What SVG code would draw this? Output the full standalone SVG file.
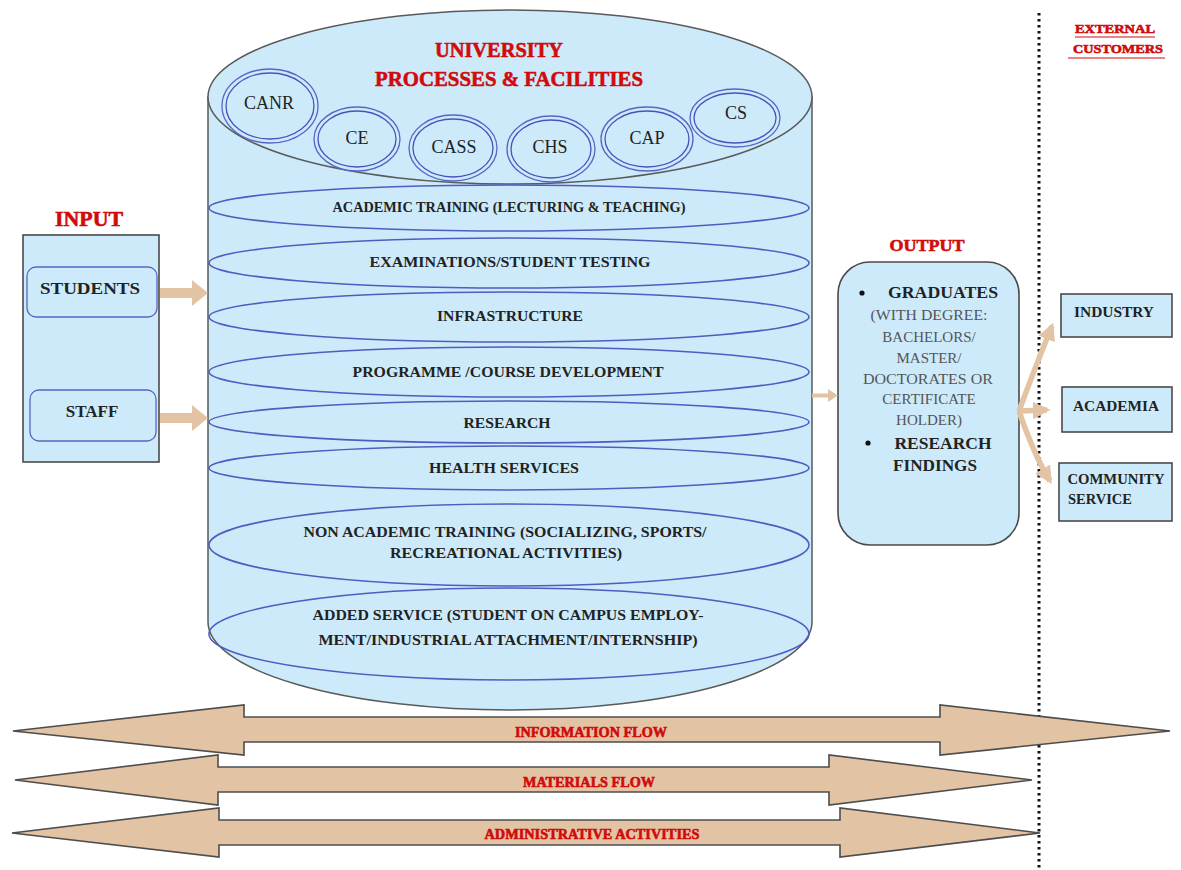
<svg xmlns="http://www.w3.org/2000/svg" width="1181" height="870" viewBox="0 0 1181 870">
<defs>
<style>
.bg{fill:#ffffff}
.lb{fill:#cdeafb;stroke:#5a5a5a;stroke-width:1.5}
.band{fill:none;stroke:#4f5cc0;stroke-width:1.6}
.ring{fill:none;stroke:#4553bb;stroke-width:1.3}
.rr{fill:#cdeafb;stroke:#5865c4;stroke-width:1.3}
.tan{fill:#e2c4a5;stroke:#4d4d4d;stroke-width:1.6;stroke-linejoin:miter}
.tanf{fill:#e2c4a5;stroke:none}
.tl{fill:none;stroke:#e2c4a5;stroke-width:5.5}
.t{font-family:"Liberation Serif",serif;font-weight:bold;fill:#222;text-anchor:middle;dominant-baseline:central}
.n{font-family:"Liberation Serif",serif;font-weight:normal;fill:#222;text-anchor:middle;dominant-baseline:central;font-size:18px}
.g{font-family:"Liberation Serif",serif;fill:#555;text-anchor:middle;dominant-baseline:central;font-size:15px}
.r{font-family:"Liberation Serif",serif;font-weight:900;fill:#d10a0a;text-anchor:middle;dominant-baseline:central;stroke:#d10a0a;stroke-width:0.6}
.box{fill:#cdeafb;stroke:#4a4a4a;stroke-width:1.6}
</style>
<marker id="ah" viewBox="0 0 10 10" refX="8" refY="5" markerWidth="3.2" markerHeight="3.2" orient="auto">
<path d="M0,0 L10,5 L0,10 Z" fill="#e2c4a5"/>
</marker>
</defs>
<rect class="bg" x="0" y="0" width="1181" height="870"/>

<g id="cylinder">
<path class="lb" d="M208,97 L208,622 A302,88 0 0 0 812,622 L812,97 Z"/>
<ellipse class="lb" cx="510" cy="97" rx="302" ry="87"/>
<text class="r" x="499" y="49" font-size="22" textLength="128" lengthAdjust="spacingAndGlyphs">UNIVERSITY</text>
<text class="r" x="509" y="78" font-size="22" textLength="268" lengthAdjust="spacingAndGlyphs">PROCESSES  &amp; FACILITIES</text>
</g>

<g id="colleges">
<g id="canr"><ellipse class="rr" cx="270" cy="106" rx="48" ry="37"/><ellipse class="ring" cx="270" cy="106" rx="44" ry="33"/><text class="n" x="269" y="103">CANR</text></g>
<g id="ce"><ellipse class="rr" cx="357" cy="139" rx="43" ry="32"/><ellipse class="ring" cx="357" cy="139" rx="39" ry="28"/><text class="n" x="357" y="138">CE</text></g>
<g id="cass"><ellipse class="rr" cx="453" cy="148" rx="44" ry="33"/><ellipse class="ring" cx="453" cy="148" rx="40" ry="29"/><text class="n" x="454" y="147">CASS</text></g>
<g id="chs"><ellipse class="rr" cx="551" cy="149" rx="44" ry="33"/><ellipse class="ring" cx="551" cy="149" rx="40" ry="29"/><text class="n" x="550" y="147">CHS</text></g>
<g id="cap"><ellipse class="rr" cx="647" cy="139" rx="46" ry="32"/><ellipse class="ring" cx="647" cy="139" rx="42" ry="28"/><text class="n" x="647" y="138">CAP</text></g>
<g id="cs"><ellipse class="rr" cx="735" cy="118" rx="45" ry="29"/><ellipse class="ring" cx="735" cy="118" rx="41" ry="25"/><text class="n" x="736" y="113">CS</text></g>
</g>

<g id="processes">
<g id="p-academic"><ellipse class="band" cx="509" cy="208" rx="300" ry="23"/><text class="t" x="509" y="207" font-size="15" textLength="353" lengthAdjust="spacingAndGlyphs">ACADEMIC TRAINING (LECTURING &amp; TEACHING)</text></g>
<g id="p-exam"><ellipse class="band" cx="509" cy="263" rx="300" ry="25"/><text class="t" x="510" y="262" font-size="15" textLength="281" lengthAdjust="spacingAndGlyphs">EXAMINATIONS/STUDENT TESTING</text></g>
<g id="p-infra"><ellipse class="band" cx="509" cy="317" rx="300" ry="25"/><text class="t" x="510" y="316" font-size="15" textLength="146" lengthAdjust="spacingAndGlyphs">INFRASTRUCTURE</text></g>
<g id="p-prog"><ellipse class="band" cx="509" cy="372" rx="300" ry="25"/><text class="t" x="508" y="372" font-size="15" textLength="311" lengthAdjust="spacingAndGlyphs">PROGRAMME /COURSE DEVELOPMENT</text></g>
<g id="p-research"><ellipse class="band" cx="509" cy="422" rx="300" ry="21"/><text class="t" x="507" y="423" font-size="15" textLength="87" lengthAdjust="spacingAndGlyphs">RESEARCH</text></g>
<g id="p-health"><ellipse class="band" cx="509" cy="468" rx="300" ry="22"/><text class="t" x="504" y="468" font-size="15" textLength="150" lengthAdjust="spacingAndGlyphs">HEALTH SERVICES</text></g>
<g id="p-nonacad"><ellipse class="band" cx="509" cy="545" rx="300" ry="41"/><text class="t" x="505" y="532" font-size="15" textLength="403" lengthAdjust="spacingAndGlyphs">NON ACADEMIC TRAINING (SOCIALIZING, SPORTS/</text><text class="t" x="506" y="553" font-size="15" textLength="232" lengthAdjust="spacingAndGlyphs">RECREATIONAL ACTIVITIES)</text></g>
<g id="p-added"><ellipse class="band" cx="509" cy="634" rx="300" ry="46"/><text class="t" x="508" y="615" font-size="15" textLength="391" lengthAdjust="spacingAndGlyphs">ADDED SERVICE (STUDENT ON CAMPUS EMPLOY-</text><text class="t" x="508" y="640" font-size="15" textLength="379" lengthAdjust="spacingAndGlyphs">MENT/INDUSTRIAL ATTACHMENT/INTERNSHIP)</text></g>
</g>

<g id="input">
<text class="r" x="89" y="219" font-size="21" textLength="68" lengthAdjust="spacingAndGlyphs">INPUT</text>
<rect class="box" x="23" y="235" width="136" height="227"/>
<g id="students"><rect class="rr" x="27" y="267" width="130" height="50" rx="9"/><text class="t" x="90" y="288" font-size="17" textLength="100" lengthAdjust="spacingAndGlyphs">STUDENTS</text></g>
<g id="staff"><rect class="rr" x="30" y="390" width="126" height="51" rx="9"/><text class="t" x="92" y="411" font-size="17">STAFF</text></g>
</g>

<g id="output">
<text class="r" x="927" y="245" font-size="17" textLength="75" lengthAdjust="spacingAndGlyphs">OUTPUT</text>
<rect class="box" x="838" y="262" width="181" height="283" rx="32"/>
<circle cx="862" cy="293" r="2.6" fill="#111"/>
<text class="t" x="943" y="292" font-size="17" textLength="110" lengthAdjust="spacingAndGlyphs">GRADUATES</text>
<text class="g" x="929" y="315" textLength="117" lengthAdjust="spacingAndGlyphs">(WITH DEGREE:</text>
<text class="g" x="929" y="337">BACHELORS/</text>
<text class="g" x="929" y="358">MASTER/</text>
<text class="g" x="928" y="379" textLength="130" lengthAdjust="spacingAndGlyphs">DOCTORATES OR</text>
<text class="g" x="929" y="399">CERTIFICATE</text>
<text class="g" x="929" y="420">HOLDER)</text>
<circle cx="868" cy="443" r="2.6" fill="#111"/>
<text class="t" x="943" y="443" font-size="17" textLength="97" lengthAdjust="spacingAndGlyphs">RESEARCH</text>
<text class="t" x="935" y="465" font-size="17" textLength="84" lengthAdjust="spacingAndGlyphs">FINDINGS</text>
</g>

<g id="customers">
<text class="r" x="1115" y="28" font-size="13" textLength="80" lengthAdjust="spacingAndGlyphs">EXTERNAL</text>
<line x1="1075" y1="37" x2="1155" y2="37" stroke="#d10a0a" stroke-width="1.2"/>
<text class="r" x="1118" y="48" font-size="13" textLength="90" lengthAdjust="spacingAndGlyphs">CUSTOMERS</text>
<line x1="1068" y1="58" x2="1165" y2="58" stroke="#d10a0a" stroke-width="1.2"/>
<g id="industry"><rect class="box" x="1061" y="294" width="111" height="43"/><text class="t" x="1114" y="312" font-size="15" textLength="80" lengthAdjust="spacingAndGlyphs">INDUSTRY</text></g>
<g id="academia"><rect class="box" x="1062" y="387" width="110" height="45"/><text class="t" x="1116" y="406" font-size="15" textLength="86" lengthAdjust="spacingAndGlyphs">ACADEMIA</text></g>
<g id="community"><rect class="box" x="1059" y="463" width="113" height="58"/><text class="t" x="1116" y="479" font-size="15" textLength="97" lengthAdjust="spacingAndGlyphs">COMMUNITY</text><text class="t" x="1100" y="499" font-size="15" textLength="64" lengthAdjust="spacingAndGlyphs">SERVICE</text></g>
</g>

<g id="connectors">
<line x1="1039" y1="13" x2="1039" y2="870" stroke="#111" stroke-width="3" stroke-dasharray="2.5,3.5"/>
<path class="tanf" d="M160,288 L192,288 L192,280 L208,293 L192,306 L192,298 L160,298 Z"/>
<path class="tanf" d="M160,413 L192,413 L192,405 L208,418 L192,431 L192,423 L160,423 Z"/>
<path class="tanf" d="M812,393.5 L828,393.5 L828,389 L838,395.5 L828,402 L828,397.5 L812,397.5 Z"/>
<path class="tl" d="M1019,411 Q1036,365 1052,326" marker-end="url(#ah)"/>
<path class="tl" d="M1019,411 L1047,410" marker-end="url(#ah)"/>
<path class="tl" d="M1019,411 Q1034,455 1050,481" marker-end="url(#ah)"/>
<g id="info-flow"><path class="tan" d="M13,731 L244,705 L244,717 L940,717 L940,705 L1170,731 L940,755 L940,742 L244,742 L244,755 Z"/><text class="r" x="591" y="732" font-size="14" textLength="152" lengthAdjust="spacingAndGlyphs">INFORMATION FLOW</text></g>
<g id="materials-flow"><path class="tan" d="M15,780 L218,755 L218,767 L829,767 L829,755 L1032,780 L829,805 L829,792 L218,792 L218,805 Z"/><text class="r" x="589" y="782" font-size="14" textLength="132" lengthAdjust="spacingAndGlyphs">MATERIALS FLOW</text></g>
<g id="admin-flow"><path class="tan" d="M12,833 L219,808 L219,820 L840,820 L840,808 L1040,833 L840,857 L840,845 L219,845 L219,857 Z"/><text class="r" x="592" y="834" font-size="14" textLength="215" lengthAdjust="spacingAndGlyphs">ADMINISTRATIVE ACTIVITIES</text></g>
</g>
</svg>
